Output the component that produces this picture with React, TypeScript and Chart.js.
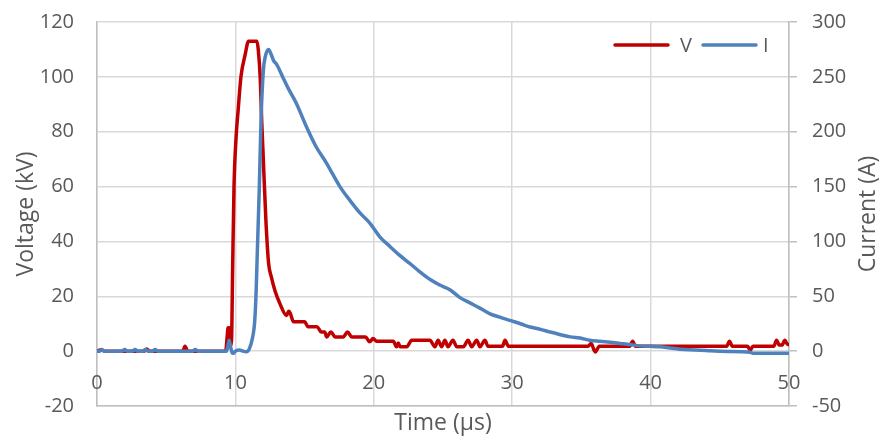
import React, { useEffect, useRef } from "react";
import { Chart, registerables } from "chart.js";

Chart.register(...registerables);

// Time base (µs) and voltage (kV) of the impulse
const voltageTime = [
  0, 0.3, 0.6, 3.4, 3.6, 3.8, 6.2, 6.36, 6.55, 9.3, 9.4, 9.47, 9.55, 9.62, 9.72,
  9.8, 9.9, 10.05, 10.2, 10.4, 10.7, 10.95, 11.55, 11.65, 11.8, 11.9, 12.0, 12.2,
  12.4, 12.6, 12.86, 13.2, 13.7, 13.85, 13.95, 14.2, 15.0, 15.25, 15.9, 16.2, 16.45,
  16.6, 16.9, 17.2, 17.8, 18.1, 18.4, 19.4, 19.7, 19.95, 20.2, 21.41, 21.65, 21.77,
  21.9, 22.38, 22.74, 24.05, 24.42, 24.64, 24.9, 25.14, 25.36, 25.72, 25.99, 26.47,
  26.81, 27.07, 27.44, 27.67, 28.03, 28.25, 29.3, 29.48, 29.72, 35.1, 35.5, 35.7,
  36.0, 36.3, 38.5, 38.7, 38.9, 45.5, 45.7, 45.9, 47.0, 47.2, 47.4, 48.9, 49.1, 49.3,
  49.5, 49.7, 49.9, 50,
];
const voltageKV = [
  0, 0.5, 0, 0, 0.8, 0, 0, 1.8, 0, 0, 5, 8.5, 8.5, 2, 4,
  30, 60, 78, 88, 100, 108, 113, 113, 110, 99, 84, 72, 48,
  32, 27, 22, 17.5, 13, 14.5, 14, 10.7, 10.7, 8.9, 8.9, 7, 7,
  5.2, 7, 5.2, 5.2, 7, 5.2, 5.2, 3.4, 4.6, 3.6, 3.6, 1.6, 3,
  1.6, 1.6, 4, 4, 1.6, 4, 1.6, 4, 1.6, 4, 1.6, 1.6,
  4, 1.6, 4, 1.6, 4, 1.8, 1.8, 4, 1.8, 1.8, 1.8, 2.8,
  -0.3, 1.8, 1.8, 3.6, 1.8, 1.8, 3.6, 1.8, 1.8, 0.4, 1.8, 1.8, 4, 2.2,
  2.2, 4, 2.4, 2.4,
];

// Time base (µs) and current (A)
const currentTime = [
  0, 0.2, 0.34, 0.5, 1.8, 2.0, 2.2, 2.55, 2.75, 2.95, 3.3, 3.5, 3.7, 4.0, 4.2, 4.4,
  6.9, 7.1, 7.3, 9.35, 9.45, 9.55, 9.65, 9.75, 9.85, 10.0, 10.3, 10.55, 10.8, 11.0,
  11.2, 11.4, 11.5, 11.58, 11.73, 11.85, 12.02, 12.15, 12.4, 12.6, 12.75, 13.0, 13.45,
  13.8, 14.4, 15.15, 15.8, 16.6, 17.55, 18.3, 19.0, 19.7, 20.45, 21.2, 21.9, 22.6,
  23.35, 24.1, 24.8, 25.5, 26.2, 26.95, 27.7, 28.4, 29.1, 29.85, 30.6, 31.3, 32.0,
  32.7, 33.5, 34.2, 34.9, 35.6, 36.3, 37.1, 37.8, 38.5, 39.2, 40.0, 40.7, 41.4, 42.1,
  42.8, 43.6, 44.3, 45.0, 45.7, 46.5, 47.2, 47.4, 48.5, 50,
];
const currentA = [
  0, 0, 1.5, 0, 0, 1.5, 0, 0, 1.5, 0, 0, 1.5, 0, 0, 1.5, 0,
  0, 1.5, 0, 0, 4, 10, 4, -1, -2, 0, 1, 0, -0.5, 2,
  10, 28, 55, 89, 150, 210, 256, 268, 275, 270, 265, 261, 249,
  240, 226, 204, 187, 171, 150, 137, 126, 117, 104, 95, 87, 80,
  72, 65, 60, 56, 49, 44, 39, 34, 31, 28, 25, 22, 20,
  17.6, 15, 13, 12, 10, 9, 8, 7, 6, 4.8, 4.4, 3.9, 2.8, 1.8,
  1.2, 0.9, 0.4, 0, -0.3, -0.6, -1, -2, -2, -2,
];

const timeTicks = [0, 10, 20, 30, 40, 50];
const seriesNames = ["V", "I"];
const seriesColors = ["#C00000", "#4F81BD"];

const TEXT = "#595959";
const GRID = "#D9D9D9";
const AXIS = "#BFBFBF";
const FONT = "'Open Sans', 'DejaVu Sans', sans-serif";

const toPoints = (xs: number[], ys: number[]) => xs.map((x, i) => ({ x, y: ys[i] }));

// Labels, titles and legend drawn in the Excel style
const decorations = {
  id: "decorations",
  afterDraw(chart: any) {
    const { ctx, chartArea, scales } = chart;
    const xs = scales.x;
    const ys = scales.y;
    ctx.save();
    ctx.fillStyle = TEXT;

    // time tick labels sit just under the zero line
    ctx.font = `20px ${FONT}`;
    ctx.textAlign = "center";
    ctx.textBaseline = "middle";
    const labelY = ys.getPixelForValue(0) + 32;
    timeTicks.forEach((t) => {
      ctx.fillText(String(t), xs.getPixelForValue(t), labelY);
    });

    // axis titles
    ctx.font = `23px ${FONT}`;
    ctx.fillText("Time (µs)", (chartArea.left + chartArea.right) / 2, 423);

    ctx.save();
    ctx.translate(26, (chartArea.top + chartArea.bottom) / 2);
    ctx.rotate(-Math.PI / 2);
    ctx.fillText("Voltage (kV)", 0, 0);
    ctx.restore();

    ctx.save();
    ctx.translate(868, (chartArea.top + chartArea.bottom) / 2);
    ctx.rotate(-Math.PI / 2);
    ctx.fillText("Current (A)", 0, 0);
    ctx.restore();

    // legend
    const legendY = 45;
    const items = [
      { x0: 615, x1: 668, tx: 680 },
      { x0: 703, x1: 756, tx: 763 },
    ];
    ctx.font = `20px ${FONT}`;
    ctx.textAlign = "left";
    items.forEach((it, i) => {
      ctx.strokeStyle = seriesColors[i];
      ctx.lineWidth = 3.5;
      ctx.lineCap = "round";
      ctx.beginPath();
      ctx.moveTo(it.x0, legendY);
      ctx.lineTo(it.x1, legendY);
      ctx.stroke();
      ctx.fillStyle = TEXT;
      ctx.fillText(seriesNames[i], it.tx, legendY + 1);
    });
    ctx.restore();
  },
};

// fixed axis box sizes so the plot area lands where the layout wants it
const fixVertical = (width: number) => (s: any) => {
  s.width = width;
  s.paddingTop = 0;
  s.paddingBottom = 0;
};

export default function App() {
  const canvasRef = useRef<HTMLCanvasElement | null>(null);

  useEffect(() => {
    const canvas = canvasRef.current;
    if (!canvas) return;
    const chart = new Chart(canvas, {
      type: "line",
      data: {
        datasets: [
          {
            label: seriesNames[0],
            data: toPoints(voltageTime, voltageKV),
            yAxisID: "y",
            borderColor: seriesColors[0],
            backgroundColor: seriesColors[0],
            borderWidth: 3.5,
            pointRadius: 0,
            cubicInterpolationMode: "monotone",
            borderJoinStyle: "round",
            borderCapStyle: "round",
            order: 2,
          },
          {
            label: seriesNames[1],
            data: toPoints(currentTime, currentA),
            yAxisID: "y1",
            borderColor: seriesColors[1],
            backgroundColor: seriesColors[1],
            borderWidth: 3.5,
            pointRadius: 0,
            cubicInterpolationMode: "monotone",
            borderJoinStyle: "round",
            borderCapStyle: "round",
            order: 1,
          },
        ],
      },
      options: {
        responsive: false,
        animation: false,
        devicePixelRatio: 1,
        layout: { padding: { top: 22, left: 0, right: 0, bottom: 0 } },
        plugins: {
          legend: { display: false },
          tooltip: { enabled: false },
        },
        scales: {
          x: {
            type: "linear",
            min: 0,
            max: 50,
            ticks: { stepSize: 10, display: false },
            grid: { color: GRID, lineWidth: 1.5, drawTicks: false },
            border: { color: AXIS, width: 1.5 },
            afterFit: (s: any) => {
              s.height = 34;
              s.paddingLeft = 0;
              s.paddingRight = 0;
            },
          },
          y: {
            position: "left",
            min: -20,
            max: 120,
            ticks: {
              stepSize: 20,
              color: TEXT,
              font: { family: FONT, size: 20 },
              padding: 23,
            },
            grid: { color: GRID, lineWidth: 1.5, drawTicks: false },
            border: { color: AXIS, width: 1.5 },
            afterFit: fixVertical(97),
          },
          y1: {
            position: "right",
            min: -50,
            max: 300,
            ticks: {
              stepSize: 50,
              color: TEXT,
              font: { family: FONT, size: 20 },
              padding: 15,
            },
            grid: {
              drawOnChartArea: false,
              drawTicks: true,
              tickLength: 8,
              tickColor: AXIS,
              lineWidth: 1.5,
            },
            border: { color: AXIS, width: 1.5 },
            afterFit: fixVertical(92),
          },
        },
      },
      plugins: [decorations],
    });
    return () => chart.destroy();
  }, []);

  return (
    <div style={{ position: "absolute", left: 0, top: 0, width: 881, height: 440, background: "#fff" }}>
      <canvas ref={canvasRef} width={881} height={440} />
    </div>
  );
}
